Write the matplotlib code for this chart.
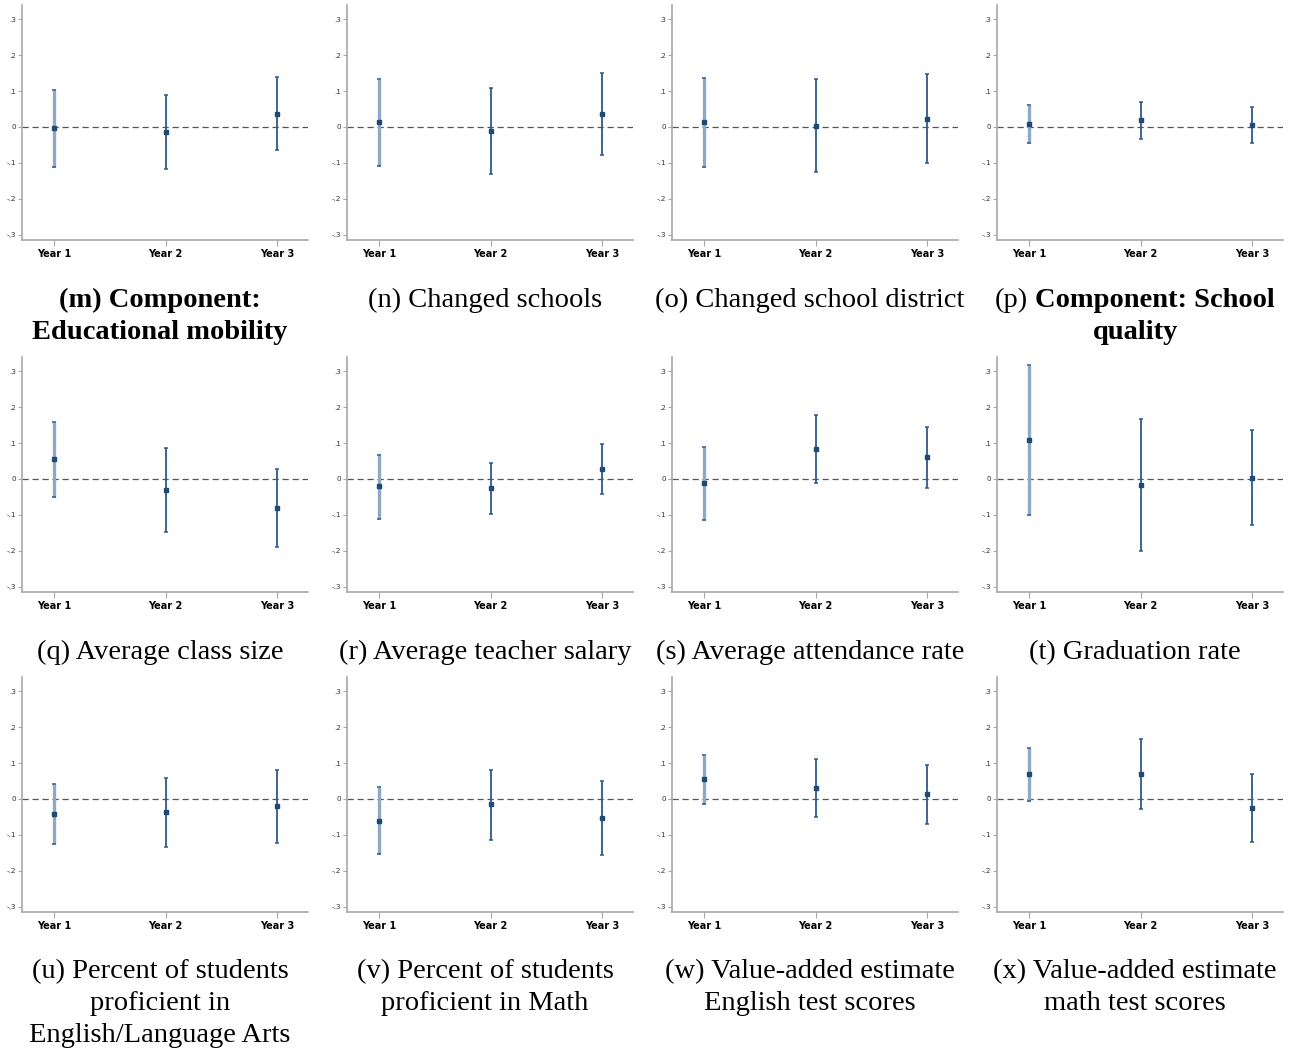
import matplotlib
matplotlib.use("Agg")
import matplotlib.pyplot as plt
from matplotlib.offsetbox import TextArea, HPacker, VPacker, AnnotationBbox

# Event-study estimates (Year 1..3) with 95% CIs
years = ["Year 1", "Year 2", "Year 3"]
ytick_vals = [-0.3, -0.2, -0.1, 0, 0.1, 0.2, 0.3]
ytick_labels = ["-.3", "-.2", "-.1", "0", ".1", ".2", ".3"]

estimates = [
    [-0.003, -0.015, 0.037],   # m
    [0.013, -0.010, 0.036],    # n
    [0.014, 0.004, 0.022],     # o
    [0.009, 0.019, 0.006],     # p
    [0.055, -0.030, -0.080],   # q
    [-0.020, -0.026, 0.027],   # r
    [-0.011, 0.084, 0.060],    # s
    [0.109, -0.018, 0.004],    # t
    [-0.041, -0.037, -0.020],  # u
    [-0.060, -0.015, -0.054],  # v
    [0.055, 0.030, 0.014],     # w
    [0.069, 0.070, -0.026],    # x
]
ci_low = [
    [-0.110, -0.118, -0.065],
    [-0.109, -0.131, -0.077],
    [-0.110, -0.126, -0.101],
    [-0.045, -0.032, -0.045],
    [-0.050, -0.146, -0.189],
    [-0.111, -0.098, -0.042],
    [-0.113, -0.011, -0.026],
    [-0.100, -0.200, -0.127],
    [-0.124, -0.133, -0.122],
    [-0.153, -0.113, -0.157],
    [-0.015, -0.051, -0.069],
    [-0.006, -0.028, -0.119],
]
ci_high = [
    [0.104, 0.090, 0.138],
    [0.134, 0.107, 0.150],
    [0.136, 0.134, 0.147],
    [0.062, 0.070, 0.055],
    [0.159, 0.086, 0.027],
    [0.067, 0.045, 0.096],
    [0.089, 0.179, 0.145],
    [0.318, 0.167, 0.136],
    [0.041, 0.059, 0.081],
    [0.032, 0.081, 0.050],
    [0.122, 0.110, 0.095],
    [0.143, 0.168, 0.070],
]

# captions: list of lines, each line a list of (text, bold) pieces
captions = [
    [[("(m) Component:", True)], [("Educational mobility", True)]],
    [[("(n) Changed schools", False)]],
    [[("(o) Changed school district", False)]],
    [[("(p)", False), ("Component: School", True)], [("quality", True)]],
    [[("(q) Average class size", False)]],
    [[("(r) Average teacher salary", False)]],
    [[("(s) Average attendance rate", False)]],
    [[("(t) Graduation rate", False)]],
    [[("(u) Percent of students", False)], [("proficient in", False)],
     [("English/Language Arts", False)]],
    [[("(v) Percent of students", False)], [("proficient in Math", False)]],
    [[("(w) Value-added estimate", False)], [("English test scores", False)]],
    [[("(x) Value-added estimate", False)], [("math test scores", False)]],
]

W, H = 1289, 1051
fig = plt.figure(figsize=(W / 100, H / 100), dpi=100)

col_left = [22, 347, 672, 997]
col_center = [160, 485, 810, 1135]
row_top = [5, 357, 677]
cap_top = [288, 640, 959]
ax_w, ax_h = 286, 235

light = "#8fa9c4"
dark = "#2d5b88"
axis_gray = "#a8a8a8"
serif = "Liberation Serif"


def draw_caption(x, y, lines):
    rows = []
    for line in lines:
        parts = [TextArea(t, textprops=dict(family=serif, size=20.5,
                                            weight="bold" if b else "normal"))
                 for t, b in line]
        rows.append(HPacker(children=parts, align="baseline", pad=0, sep=5))
    box = VPacker(children=rows, align="center", pad=0, sep=5)
    ab = AnnotationBbox(box, (x / W, 1 - y / H), xycoords="figure fraction",
                        box_alignment=(0.5, 1.0), frameon=False)
    fig.add_artist(ab)


for i in range(12):
    r, c = divmod(i, 4)
    ax = fig.add_axes([col_left[c] / W, 1 - (row_top[r] + ax_h) / H,
                       ax_w / W, ax_h / H])
    ax.axhline(0, color="#555555", lw=0.9, ls=(0, (5, 3)), zorder=1)
    for j in range(3):
        e = estimates[i][j]
        yerr = [[e - ci_low[i][j]], [ci_high[i][j] - e]]
        # Year 1 bar is drawn as a lighter, wider band; caps stay dark
        ax.errorbar([j + 1], [e], yerr=yerr, fmt="none",
                    ecolor=light if j == 0 else dark,
                    elinewidth=2.4 if j == 0 else 1.3,
                    capsize=0, zorder=2)
        ax.errorbar([j + 1], [e], yerr=yerr, fmt="none", ecolor=dark,
                    elinewidth=0, capsize=1.5, capthick=1.1, zorder=2)
        ax.plot([j + 1], [e], "s", ms=2.2, color="#1f4a75", zorder=3)

    ax.set_xlim(0.71, 3.28)
    ax.set_ylim(-0.314, 0.339)
    ax.set_xticks([1, 2, 3])
    ax.set_xticklabels(years, fontsize=7, fontweight="bold")
    ax.set_yticks(ytick_vals)
    ax.set_yticklabels(ytick_labels, fontsize=5.2, color="#333333")
    ax.tick_params(axis="y", length=3, width=0.8, color=axis_gray, pad=1.5)
    ax.tick_params(axis="x", length=4, width=0.8, color=axis_gray, pad=2.5)
    for s in ["top", "right"]:
        ax.spines[s].set_visible(False)
    for s in ["left", "bottom"]:
        ax.spines[s].set_color(axis_gray)
        ax.spines[s].set_linewidth(1.2)

    draw_caption(col_center[c], cap_top[r], captions[i])

fig.savefig("out.png", dpi=100)
